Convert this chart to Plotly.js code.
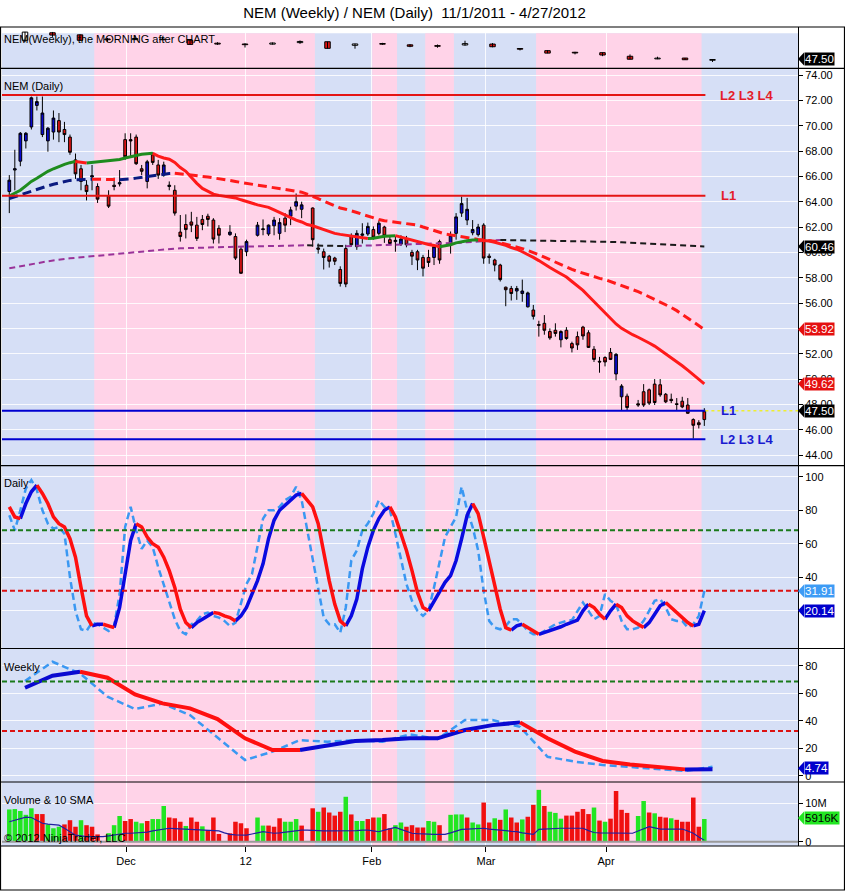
<!DOCTYPE html>
<html><head><meta charset="utf-8">
<script src="https://cdn.plot.ly/plotly-3.0.1.min.js"></script>
<style>html,body{margin:0;padding:0;background:#fff;}#chart{width:845px;height:891px;}</style>
</head><body><div id="chart"></div>
<script>
// ---------------- DATA ----------------
// Daily candles (slot index 0..126); null = empty slot
const dOpen = [64.8,66.5,67.2,68.8,69.9,71.6,69.3,68.8,69.5,70.4, 69.7,69.1,67.3,66.6,65.3,65.95,65.2,null,64.45,65.3, 65.4,68.9,68.9,69.1,66.6,65.6,67.7,66.9,66.1,65.2, 64.9,61.6,62.2,62.4,62.15,62.6,62.85,62.55,61.9,null, 61.4,61.25,60.25,60.05,null,61.35,61.8,61.45,62.1,61.5, 62.7,62.85,63.65,63.4,null,63.5,60.35,60.05,59.7,59.55, 58.65,60.3,61.3,60.45,61.35,61.45,61.8,61.5,62.0,61.0, 60.85,60.65,61.1,60.0,60.05,59.6,59.6,59.6,60.85,null, 60.6,61.5,63.1,62.55,61.55,61.4,62.15,59.7,59.4,59.0, 57.25,57.15,56.95,56.75,55.7,55.45,54.3,54.4,53.75,53.85, 53.1,53.85,52.8,53.35,54.1,53.65,52.35,51.4,51.7,52.1, 50.4,48.6,48.65,null,48.05,49.0,49.15,49.6,49.55,48.8, 48.4,48.05,48.25,47.95,46.8,46.55,46.8];
const dHigh = [66.1,68.1,69.5,69.5,72.3,72.3,72.3,69.9,71.2,71.0, 70.3,69.3,67.8,66.9,65.7,66.9,65.45,null,64.9,65.9, 66.5,69.4,69.4,69.3,66.9,67.3,67.9,67.3,67.16,65.6, 65.3,62.95,63.0,63.2,62.8,62.95,63.05,62.7,62.15,null, 62.15,61.5,60.45,61.0,null,62.4,62.6,62.2,62.8,62.7, 63.1,63.6,64.65,64.0,null,63.55,60.7,60.3,59.8,59.65, 58.9,60.6,61.5,61.75,62.3,62.35,62.05,62.5,62.1,61.25, 61.3,61.35,61.3,60.2,60.2,59.8,60.2,60.6,61.0,null, 61.65,63.1,64.4,64.3,62.55,62.25,62.3,59.9,59.5,59.1, 57.3,57.35,57.35,57.85,56.9,55.85,54.6,55.05,54.0,54.4, 53.85,54.1,52.95,53.75,54.2,53.85,52.6,51.75,51.8,52.45, 52.05,49.6,48.85,null,48.35,49.6,49.25,50.0,50.0,48.9, 48.85,48.5,48.6,48.5,46.9,46.75,47.7];
const dLow = [63.1,64.9,66.8,68.2,69.7,71.2,69.1,67.95,68.9,68.7, 68.7,67.7,65.8,64.9,64.1,64.9,63.9,null,63.5,64.9, 65.2,67.3,67.55,66.9,66.1,65.05,66.9,65.8,65.97,64.9, 62.9,60.85,61.1,61.6,60.9,61.75,62.05,60.7,60.7,null, 61.3,59.4,58.3,59.7,null,61.25,61.35,61.3,61.35,61.0, 61.6,62.15,63.3,62.7,null,60.45,59.9,58.65,58.8,59.0, 57.3,57.25,60.45,60.2,60.7,61.3,61.0,61.35,60.75,60.6, 60.05,60.5,60.4,59.0,58.6,58.1,58.85,59.0,59.1,null, 59.9,61.0,62.8,62.15,61.35,61.25,59.1,59.1,58.5,57.7, 55.75,56.2,56.25,56.1,55.65,54.7,53.35,53.5,53.1,53.35, 52.5,53.1,52.1,52.3,53.1,52.45,51.35,50.5,51.0,51.5, 49.9,47.55,47.55,null,47.8,47.8,47.95,47.95,48.6,48.1, 48.1,47.55,47.7,47.25,45.3,46.1,46.3];
const dClose = [65.7,66.6,69.4,69.4,72.2,71.9,71.0,69.8,70.6,69.5, 69.3,67.9,66.2,65.6,64.8,66.05,64.2,null,63.65,65.2, 65.5,67.55,68.8,67.0,66.4,67.15,67.1,66.1,66.9,65.3, 63.1,61.25,61.8,62.15,61.1,62.2,62.6,61.05,61.35,null, 61.6,59.55,58.35,60.85,null,62.15,61.85,62.15,62.55,62.35, 62.15,63.35,64.0,63.75,null,61.0,60.25,59.6,59.3,59.3, 57.55,57.5,60.6,61.5,61.45,62.05,61.2,62.3,61.3,60.7, 60.95,61.05,60.6,59.7,59.4,58.75,59.2,60.45,59.4,null, 61.35,62.8,63.85,63.4,61.8,62.0,59.55,59.6,59.0,57.85, 57.05,56.75,57.15,56.95,56.8,54.95,54.25,53.85,53.25,53.6, 53.75,53.2,52.45,52.7,53.4,52.5,51.55,51.35,51.35,51.55, 51.95,49.45,47.75,null,47.95,47.95,48.1,48.15,48.75,48.2, 48.3,48.0,47.8,47.3,46.35,46.4,47.5];
// candle paint colour: B = blue, R = red, - = empty
const dPaint = ("BBBBBBBBBR"+"RRRRRBR-RR"+"BRRRRBRRBB"+"RRRRRRRRR-"+"BRRB-BBBBB"+"RBBB-RRRRR"+"RRRBBBRBRR"+"BBRRRRRBR-"+"BBBBBBRRRR"+"RRBBBRRRRR"+"BRRRRRRRRR"+"BBR-RRRRRR"+"RRRRRRR").split('');

// moving averages on price
const maFast = [64.45,64.65,64.9,65.25,65.6,65.85,66.15,66.4,66.6,66.8, 66.95,67.08,67.18,67.1,67.05,67.1,67.12,67.15,67.2,67.25, 67.33,67.45,67.56,67.65,67.74,67.78,67.82,67.6,67.45,67.35, 67.1,66.7,66.4,65.9,65.45,65.05,64.8,64.6,64.5,64.45, 64.38,64.3,64.15,64.0,63.9,63.75,63.65,63.55,63.35,63.15, 62.95,62.7,62.55,62.4,62.2,62.1,61.95,61.8,61.65,61.5, 61.42,61.35,61.28,61.22,61.15,61.1,61.12,61.2,61.28,61.3, 61.32,61.2,61.1,60.95,60.85,60.75,60.62,60.55,60.45,60.5, 60.6,60.75,60.85,60.92,60.97,60.98,60.95,60.9,60.8,60.7, 60.55,60.38,60.25,60.05,59.85,59.6,59.35,59.05,58.8,58.55, 58.3,58.05,57.7,57.35,57.0,56.55,56.1,55.65,55.2,54.75, 54.35,54.0,53.72,53.5,53.3,53.1,52.85,52.6,52.3,52.0, 51.7,51.4,51.05,50.7,50.35,50.0,49.62];
const maMid = [64.25,64.4,64.55,64.7,64.85,65.0,65.12,65.25,65.38,65.5, 65.6,65.68,65.72,65.75,65.76,65.78,65.77,65.76,65.75,65.74, 65.74,65.75,65.8,65.86,65.93,66.0,66.07,66.13,66.18,66.22, 66.24,66.2,66.15,66.1,66.05,66.0,65.95,65.88,65.82,65.75, 65.68,65.6,65.52,65.45,65.38,65.3,65.22,65.15,65.08,65.02, 64.96,64.92,64.85,64.75,64.6,64.45,64.25,64.05,63.85,63.65, 63.5,63.4,63.3,63.15,63.0,62.85,62.7,62.6,62.5,62.45, 62.4,62.35,62.3,62.25,62.15,62.0,61.85,61.7,61.55,61.45, 61.38,61.3,61.22,61.15,61.1,61.02,60.98,60.95,60.88,60.75, 60.65,60.52,60.42,60.3,60.15,60.0,59.82,59.62,59.42,59.2, 59.0,58.8,58.65,58.5,58.35,58.2,58.05,57.95,57.85,57.7, 57.55,57.4,57.25,57.1,56.9,56.7,56.5,56.3,56.1,55.9, 55.65,55.4,55.1,54.8,54.5,54.2,53.92];
const maSlow = [58.74,58.83,58.92,59.0,59.08,59.15,59.22,59.3,59.37,59.43, 59.48,59.53,59.57,59.61,59.65,59.69,59.73,59.77,59.81,59.86, 59.91,59.96,60.01,60.06,60.11,60.15,60.19,60.22,60.25,60.28, 60.3,60.32,60.34,60.36,60.37,60.38,60.39,60.4,60.41,60.42, 60.43,60.44,60.45,60.46,60.47,60.48,60.49,60.5,60.51,60.52, 60.53,60.54,60.55,60.56,60.56,60.55,60.54,60.53,60.52,60.51, 60.5,60.49,60.5,60.51,60.52,60.53,60.54,60.55,60.56,60.57, 60.58,60.59,60.6,60.61,60.62,60.63,60.64,60.65,60.66,60.68, 60.7,60.73,60.76,60.8,60.84,60.88,60.92,60.95,60.97,60.98, 60.975,60.97,60.965,60.96,60.955,60.95,60.945,60.94,60.935,60.93, 60.92,60.91,60.9,60.89,60.88,60.87,60.86,60.85,60.84,60.83, 60.82,60.8,60.78,60.76,60.74,60.72,60.7,60.68,60.66,60.64, 60.62,60.6,60.57,60.54,60.51,60.48,60.46];

// horizontal levels
const redLevels = [72.42, 64.47];
const redLevelText = ['L2 L3 L4', 'L1'];
const blueLevels = [47.5, 45.25];
const blueLevelText = ['L1', 'L2 L3 L4'];
const lastPrice = 47.5;

// daily stochastics
const stD = [82,76,75,84,91,95,90,84,76,72, 70,63,52,34,17,11,12,12,11,10, 22,42,62,72,70,64,60,58,52,44, 34,21,13,10,13,15,17,19,18.5,17, 16,14,17,22,30,38,48,63,74,80, 83,86,89,90,86,82,72,54,38,24, 14,11,17,27,45,58,68,75,80,82, 76,66,56,44,31,22,20,26,32,37, 41,50,63,77,84,78,64,49,36,21, 10,8.5,11,12,10,8,6,7,8,9, 10.5,12,13.5,14.5,20,24,22,18,15,20, 24,22,17,14,12,10,13,18,23,25, 22,19,16,13,11,12,20.14];
const stK = [77,68,80,93,98,92,80,72,69,70, 66,40,20,9,8,13,12,10,8,11, 30,70,82,68,57,62,58,46,36,26, 15,8,6,12,14,18,19,17,16,14, 11,13,24,36,42,58,75,80,80,82, 86,88,94,86,68,52,32,16,12,12, 7,22,50,56,68,72,78,86,82,80, 66,50,36,26,20,17,20,34,50,64, 70,76,94,80,70,56,32,14,10,9, 11,15,15,12,8,6,6,8,10,12, 13,14,14.5,20,25,20,15,17,30,26, 24,14,9,9,10,14,20,26,27,22, 15,14,14,10,12,17,31.91];
const stLevels = [68, 32];

// volume (millions) and 10 SMA
const vol = [8.4,8.5,8.0,7.0,8.7,7.2,7.2,4.5,3.5,3.9, 4.5,5.6,3.9,5.6,4.3,3.9,1.9,null,2.2,4.3, 6.7,5.4,5.9,5.2,4.8,5.4,5.9,5.9,9.3,6.3, 6.1,5.2,4.1,6.3,5.2,4.0,3.0,6.3,2.0,null, 2.2,5.2,4.8,3.5,null,6.3,4.2,4.2,3.9,6.1, 5.2,5.2,5.9,4.2,null,8.7,7.8,8.9,7.6,6.8, 7.8,11.7,7.1,5.4,5.4,5.9,6.3,6.3,7.2,3.5, 4.3,5.0,3.9,4.3,3.7,3.7,5.4,5.2,4.3,null, 7.0,7.1,7.1,6.3,5.0,4.5,10.2,5.0,6.1,5.7, 8.4,6.3,5.0,5.8,6.5,9.6,13.5,9.3,7.8,7.5, 6.0,6.8,6.8,7.8,8.5,7.2,8.9,5.5,5.2,6.0, 13.2,8.3,7.5,null,6.7,10.6,7.6,7.4,6.5,6.3, 6.1,5.7,5.2,5.2,11.5,3.9,5.916];
const volPaint = ("GGGGGRRGGG"+"RRRGRRR-GG"+"GRRGGRGGGR"+"RRGRRGRRR-"+"RRRR-GGRRR"+"GGGR-RGRRR"+"RGRGGRRGRR"+"GGRRRRGGR-"+"GGGRGGRRGR"+"GRRGRRGRGG"+"GRRRRRGRGR"+"RRR-GGRGRR"+"GRRRRRG").split('');
const volSma = [5.2,5.6,6.0,6.4,6.3,5.6,4.8,4.6,4.4,4.3, 3.5,2.5,1.7,1.5,1.3,1.3,1.3,1.3,1.5,1.8, 2.1,2.2,2.2,2.3,2.4,2.5,2.8,3.0,3.3,3.5, 3.4,3.3,3.3,3.2,3.1,3.0,2.9,2.9,2.8,2.3, 1.9,1.8,1.7,1.7,2.0,2.3,2.6,2.4,2.2,2.3, 2.5,2.6,2.8,3.0,3.0,2.9,2.9,2.8,2.8,2.8, 2.8,2.8,2.9,2.9,3.0,3.0,2.8,2.6,3.0,3.4, 3.7,3.2,2.6,2.2,2.1,2.0,1.9,1.9,1.9,1.9, 2.3,2.8,3.2,3.3,3.4,3.5,3.5,3.3,3.2,3.0, 2.9,2.7,2.6,2.3,2.1,1.9,3.2,3.3,3.4,3.5, 3.5,3.5,3.5,3.5,3.5,2.9,2.4,2.3,2.3,2.2, 2.2,2.2,2.2,2.2,2.8,3.4,3.9,3.6,3.3,3.3, 3.3,3.3,3.3,2.8,2.2,1.2,0.4];

// weekly candles (top strip) and weekly stochastics
const wOpen  = [64.8,71.6,69.7,66.0,65.4,65.6,64.9,62.2,61.4,61.35,62.7,63.5,60.3,61.45,60.7,59.6,60.6,61.4,57.25,55.45,53.85,53.65,50.4,48.05,48.8,46.8];
const wHigh  = [72.4,72.3,70.3,66.9,69.4,67.9,65.3,63.05,62.15,62.8,64.65,63.55,61.75,62.5,61.35,61.0,64.4,62.3,57.85,55.85,54.4,53.85,52.05,50.0,48.9,47.7];
const wLow   = [63.1,67.9,64.1,63.5,65.2,64.9,60.85,60.7,58.3,61.0,61.6,57.3,57.25,60.75,58.6,58.1,59.9,58.5,55.65,53.1,52.1,50.5,47.55,47.8,47.25,45.3];
const wClose = [72.2,69.5,64.8,65.3,66.4,65.3,61.1,61.4,60.85,62.35,63.75,57.55,61.5,61.3,59.4,59.4,61.8,59.0,56.8,53.25,53.4,51.55,47.75,48.75,47.3,47.5];
const wStD = [64,72.7,75.6,71.3,59.2,52.6,49,41.2,27.2,18.7,18.7,22.3,25.2,25.9,27.2,27.2,33.2,36.8,38.8,27.2,17.5,10.7,8.2,6.2,4.6,4.74];
const wStK = [68.8,82.9,74.4,57.5,48.5,52.6,44.1,27.6,11.4,17.5,25.9,24.7,25.9,24.7,30.1,26.7,40.5,40.5,35.6,13.8,10.2,7.8,6.5,4.8,3.4,6.5];
const wLevels = [68.5, 32.5];

// background bands (pink), in daily slot units
const pinkBands = [[15.4,55.4],[65.8,70.3],[75.4,80.6],[95.5,125.5]];

// axis ticks
const xTickText = ['Dec','12','Feb','Mar','Apr'];
const xTickPos = [21.16,42.86,65.72,86.42,108.18];
const priceTicks = [44,46,48,50,52,54,56,58,60,62,64,66,68,70,72,74];
const stTicks = [20,40,60,80,100];
const wTicks = [0,20,40,60,80];

// text labels
const chartTitle = 'NEM (Weekly) / NEM (Daily) &nbsp;11/1/2011 - 4/27/2012';
const panelLabels = ['NEM(Weekly), the MORNING after CHART','NEM (Daily)','Daily','Weekly','Volume & 10 SMA','© 2012 NinjaTrader, LLC'];

// tags at right axis
const tags = [
  {t:'47.50', v:47.9, ax:'y',  bg:'#000000', fg:'#ffffff'},
  {t:'60.46', v:60.46, ax:'y2', bg:'#000000', fg:'#ffffff'},
  {t:'53.92', v:53.92, ax:'y2', bg:'#e41010', fg:'#ffffff'},
  {t:'49.62', v:49.62, ax:'y2', bg:'#e41010', fg:'#ffffff'},
  {t:'47.50', v:47.5, ax:'y2', bg:'#000000', fg:'#ffffff'},
  {t:'31.91', v:31.91, ax:'y3', bg:'#3d9bf5', fg:'#ffffff'},
  {t:'20.14', v:20.14, ax:'y3', bg:'#0000cc', fg:'#ffffff'},
  {t:'4.74', v:5.4, ax:'y4', bg:'#0000cc', fg:'#ffffff'},
  {t:'5916K', v:6.2, ax:'y5', bg:'#22e622', fg:'#000000'}
];

// ---------------- GEOMETRY ----------------
const W = 845, H = 891, ML = 2, MR = 47, MT = 27, MB = 45;
const PX_L = ML, PX_R = W - MR;
const D0 = 9.3, DSTEP = 5.516, W0 = 25, WSTEP = 27.5;
const pX = px => (px - PX_L) / (PX_R - PX_L);
const pY = py => ((H - MB) - py) / (H - MT - MB);
const bounds = [27, 68.3, 465.7, 648.5, 782, 846];
const dom = i => [pY(bounds[i+1]), pY(bounds[i])];
const axes = {
  y:  {domain: dom(0), range: [39.57, 76.78]},
  y2: {domain: dom(1), range: [43.16, 74.53]},
  y3: {domain: dom(2), range: [-2.45, 106.56]},
  y4: {domain: dom(3), range: [-4.58, 92.55]},
  y5: {domain: dom(4), range: [-1.12, 15.55]}
};
const xRange = [(PX_L - D0)/DSTEP, (PX_R - D0)/DSTEP];
const x2Range = [(PX_L - W0)/WSTEP, (PX_R - W0)/WSTEP];
const xw = xTickPos.map(i => (D0 + DSTEP*i - W0)/WSTEP);
const toPaper = (ax, v) => { const a = axes[ax]; return a.domain[0] + (v - a.range[0])/(a.range[1]-a.range[0])*(a.domain[1]-a.domain[0]); };

const N = dOpen.length;
const idx = Array.from({length: N}, (_, i) => i);
const widx = wOpen.map((_, k) => k);

// ---------------- TRACES ----------------
const traces = [];
function colored(xs, ys, upC, dnC, width, dash, xa, ya) {
  const up = {x: [], y: []}, dn = {x: [], y: []};
  let prev = null;
  for (let i = 1; i < ys.length; i++) {
    const a = ys[i-1], b = ys[i];
    const dir = b > a ? 'u' : (b < a ? 'd' : (prev || 'u'));
    const t = dir === 'u' ? up : dn;
    if (dir !== prev) { t.x.push(null); t.y.push(null); t.x.push(xs[i-1]); t.y.push(a); }
    t.x.push(xs[i]); t.y.push(b);
    prev = dir;
  }
  [[up, upC], [dn, dnC]].forEach(([t, c]) => traces.push({
    type: 'scatter', mode: 'lines', x: t.x, y: t.y, xaxis: xa, yaxis: ya,
    line: {color: c, width: width, dash: dash || 'solid'}, hoverinfo: 'skip', connectgaps: false, showlegend: false
  }));
}

// price MAs
colored(idx, maSlow, '#993399', '#1a1a1a', 2, '6px,4px', 'x', 'y2');
colored(idx, maMid, '#0a1a80', '#ff1a1a', 3, '9px,5px', 'x', 'y2');
colored(idx, maFast, '#1e8c1e', '#ff1a1a', 3, 'solid', 'x', 'y2');

// daily candles, split by paint colour
[['B', '#0a0ad0'], ['R', '#e01414']].forEach(([flag, col]) => {
  const sel = idx.filter(i => dPaint[i] === flag && dOpen[i] !== null);
  traces.push({
    type: 'candlestick', xaxis: 'x', yaxis: 'y2',
    x: sel, open: sel.map(i => dOpen[i]), high: sel.map(i => dHigh[i]), low: sel.map(i => dLow[i]), close: sel.map(i => dClose[i]),
    increasing: {line: {color: '#000', width: 1}, fillcolor: col},
    decreasing: {line: {color: '#000', width: 1}, fillcolor: col},
    whiskerwidth: 0, hoverinfo: 'skip', showlegend: false
  });
});

// weekly candles in top strip (wick + body)
const wkX = [], wkY = [];
widx.forEach(k => { wkX.push(k, k, null); wkY.push(wLow[k], wHigh[k], null); });
traces.push({type: 'scatter', mode: 'lines', x: wkX, y: wkY, xaxis: 'x2', yaxis: 'y', line: {color: '#000', width: 1}, hoverinfo: 'skip', showlegend: false});
traces.push({
  type: 'bar', xaxis: 'x2', yaxis: 'y', x: widx,
  base: widx.map(k => Math.min(wOpen[k], wClose[k])),
  y: widx.map(k => Math.max(Math.abs(wClose[k] - wOpen[k]), 0.6)),
  width: 0.2,
  marker: {color: widx.map(k => wClose[k] >= wOpen[k] ? '#ffffff' : '#e01414'), line: {color: '#000', width: 1}},
  hoverinfo: 'skip', showlegend: false
});

// daily stochastics
traces.push({type: 'scatter', mode: 'lines', x: idx, y: stK, xaxis: 'x', yaxis: 'y3', line: {color: '#3a98f2', width: 2.5, dash: '7px,4px'}, hoverinfo: 'skip', showlegend: false});
colored(idx, stD, '#0a0ae0', '#ff1010', 3.5, 'solid', 'x', 'y3');

// weekly stochastics
traces.push({type: 'scatter', mode: 'lines', x: widx, y: wStK, xaxis: 'x2', yaxis: 'y4', line: {color: '#3a98f2', width: 2.5, dash: '7px,4px'}, hoverinfo: 'skip', showlegend: false});
colored(widx, wStD, '#0a0ad0', '#ff1010', 4, 'solid', 'x2', 'y4');

// volume
traces.push({
  type: 'bar', xaxis: 'x', yaxis: 'y5', x: idx, y: vol, width: 0.82,
  marker: {color: volPaint.map(c => c === 'G' ? '#22e622' : '#f01010'), line: {width: 0}},
  hoverinfo: 'skip', showlegend: false
});
traces.push({type: 'scatter', mode: 'lines', x: idx, y: volSma, xaxis: 'x', yaxis: 'y5', line: {color: '#2020a0', width: 1.2}, hoverinfo: 'skip', showlegend: false});

// ---------------- SHAPES ----------------
const shapes = [];
const bandTop = pY(33.3);
shapes.push({type: 'rect', xref: 'paper', yref: 'paper', x0: 0, x1: 1, y0: 0, y1: bandTop, fillcolor: '#d6dff6', line: {width: 0}, layer: 'below'});
pinkBands.forEach(b => shapes.push({type: 'rect', xref: 'x', yref: 'paper', x0: b[0], x1: b[1], y0: 0, y1: bandTop, fillcolor: '#ffd3e8', line: {width: 0}, layer: 'below'}));
const lvlEnd = (704.3 - D0)/DSTEP + 0.2;
redLevels.forEach(v => shapes.push({type: 'line', xref: 'x', yref: 'y2', x0: xRange[0], x1: lvlEnd, y0: v, y1: v, line: {color: '#e41414', width: 2}}));
blueLevels.forEach(v => shapes.push({type: 'line', xref: 'x', yref: 'y2', x0: xRange[0], x1: lvlEnd, y0: v, y1: v, line: {color: '#0000d0', width: 2}}));
shapes.push({type: 'line', xref: 'x', yref: 'y2', x0: lvlEnd, x1: xRange[1], y0: lastPrice, y1: lastPrice, line: {color: '#eeee30', width: 1.5, dash: 'dot'}});
const lvlCols = ['#1a7a1a', '#dd1111'];
stLevels.forEach((v, j) => shapes.push({type: 'line', xref: 'paper', yref: 'y3', x0: 0, x1: 1, y0: v, y1: v, line: {color: lvlCols[j], width: 2, dash: '5px,3px'}}));
wLevels.forEach((v, j) => shapes.push({type: 'line', xref: 'paper', yref: 'y4', x0: 0, x1: 1, y0: v, y1: v, line: {color: lvlCols[j], width: 2, dash: '5px,3px'}}));
shapes.push({type: 'line', xref: 'paper', yref: 'y5', x0: 0, x1: 1, y0: 0, y1: 0, line: {color: '#9a9a9a', width: 2}});
// separators and frame
[68.3, 465.7, 648.5, 782, 846].forEach(py => shapes.push({type: 'line', xref: 'paper', yref: 'paper', x0: pX(0), x1: pX(845), y0: pY(py), y1: pY(py), line: {color: '#000', width: 1.2}}));
shapes.push({type: 'rect', xref: 'paper', yref: 'paper', x0: pX(0.5), x1: pX(844.5), y0: pY(890), y1: pY(27), line: {color: '#000', width: 1.2}, fillcolor: 'rgba(0,0,0,0)'});
// tag arrow heads
const tipX = pX(PX_R), baseX = pX(PX_R + 6), hh = 6.5/(H - MT - MB);
tags.forEach(g => {
  const yp = toPaper(g.ax, g.v);
  shapes.push({type: 'path', xref: 'paper', yref: 'paper', path: `M ${tipX} ${yp} L ${baseX} ${yp + hh} L ${baseX} ${yp - hh} Z`, fillcolor: g.bg, line: {width: 0}});
});

// ---------------- ANNOTATIONS ----------------
const FONT = 'Liberation Sans, Arial, sans-serif';
const ann = [];
const labelY = [39, 86, 483, 667, 800, 838];
panelLabels.forEach((t, j) => ann.push({text: t, xref: 'paper', yref: 'paper', x: pX(2), y: pY(labelY[j]), xanchor: 'left', yanchor: 'middle', showarrow: false, font: {family: FONT, size: 11, color: '#000'}}));
const lvlX = t => t.length > 3 ? pX(746.5) : pX(728);
redLevels.forEach((v, j) => ann.push({text: '<b>' + redLevelText[j] + '</b>', xref: 'paper', yref: 'y2', x: lvlX(redLevelText[j]), y: v, xanchor: 'center', yanchor: 'middle', showarrow: false, font: {family: 'Liberation Sans Narrow, Liberation Sans, Arial', size: 13, color: '#e41c2a'}}));
blueLevels.forEach((v, j) => ann.push({text: '<b>' + blueLevelText[j] + '</b>', xref: 'paper', yref: 'y2', x: lvlX(blueLevelText[j]), y: v, xanchor: 'center', yanchor: 'middle', showarrow: false, font: {family: 'Liberation Sans Narrow, Liberation Sans, Arial', size: 13, color: '#1a1ad0'}}));
tags.forEach(g => ann.push({text: g.t, xref: 'paper', yref: g.ax, x: baseX, y: g.v, xanchor: 'left', yanchor: 'middle', showarrow: false, bgcolor: g.bg, borderpad: 0, font: {family: FONT, size: 11.5, color: g.fg}}));

// ---------------- LAYOUT ----------------
const gridC = 'rgba(255,255,255,0.85)';
const yBase = {side: 'right', showline: true, linecolor: '#000', linewidth: 1, ticks: 'outside', ticklen: 4, tickcolor: '#000', tickfont: {family: FONT, size: 11, color: '#000'}, gridcolor: gridC, gridwidth: 1, zeroline: false, fixedrange: true};
const layout = {
  width: W, height: H, margin: {l: ML, r: MR, t: MT, b: MB},
  paper_bgcolor: '#ffffff', plot_bgcolor: 'rgba(0,0,0,0)', showlegend: false, barmode: 'overlay',
  title: {text: chartTitle, xref: 'container', x: 414.5/W, y: 1 - 13/H, xanchor: 'center', yanchor: 'middle', font: {family: FONT, size: 15, color: '#000'}},
  xaxis: {domain: [0, 1], range: xRange, anchor: 'y5', rangeslider: {visible: false}, tickmode: 'array', tickvals: xTickPos, ticktext: xTickText, ticks: 'outside', ticklen: 5, tickcolor: '#000', tickfont: {family: FONT, size: 11, color: '#000'}, showgrid: true, gridcolor: gridC, zeroline: false, showline: false, fixedrange: true},
  xaxis2: {domain: [0, 1], range: x2Range, anchor: 'y4', rangeslider: {visible: false}, tickmode: 'array', tickvals: xw, showticklabels: false, ticks: '', showgrid: true, gridcolor: gridC, zeroline: false, showline: false, fixedrange: true},
  yaxis: Object.assign({}, yBase, {domain: axes.y.domain, range: axes.y.range, anchor: 'x2', showticklabels: false, ticks: '', showgrid: false}),
  yaxis2: Object.assign({}, yBase, {domain: axes.y2.domain, range: axes.y2.range, anchor: 'x', tickmode: 'array', tickvals: priceTicks, tickformat: '.2f'}),
  yaxis3: Object.assign({}, yBase, {domain: axes.y3.domain, range: axes.y3.range, anchor: 'x', tickmode: 'array', tickvals: stTicks}),
  yaxis4: Object.assign({}, yBase, {domain: axes.y4.domain, range: axes.y4.range, anchor: 'x2', tickmode: 'array', tickvals: wTicks}),
  yaxis5: Object.assign({}, yBase, {domain: axes.y5.domain, range: axes.y5.range, anchor: 'x', tickmode: 'array', tickvals: [0, 10], ticktext: ['0', '10M']}),
  shapes: shapes, annotations: ann
};
Plotly.newPlot('chart', traces, layout, {staticPlot: true, displayModeBar: false});
</script></body></html>
